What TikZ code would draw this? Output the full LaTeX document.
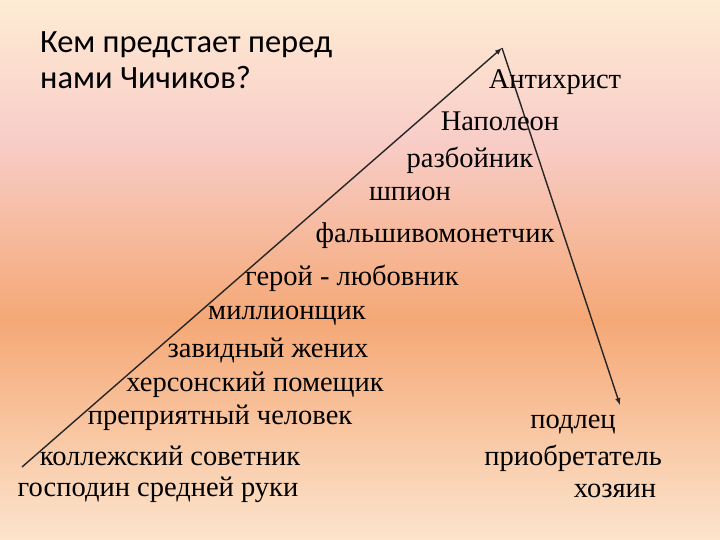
\documentclass[tikz,border=0pt]{standalone}
\usepackage{fontspec}
\setmainfont{Liberation Serif}
\newfontfamily\titlefont{Carlito}
\begin{document}
\begin{tikzpicture}[x=1pt,y=-1pt,
  lbl/.style={font=\fontsize{28.5}{30}\selectfont, inner sep=0pt},
  ttl/.style={font=\titlefont\fontsize{32.5}{34}\selectfont, inner sep=0pt, anchor=west},
  arr/.style={-latex, line width=1.4pt, black!85}]
\useasboundingbox (0,0) rectangle (720,540);
\shade[top color={rgb,255:red,255;green,236;blue,212}, bottom color={rgb,255:red,248;green,205;blue,200}] (0,0) rectangle (720,140);
\shade[top color={rgb,255:red,248;green,205;blue,200}, bottom color={rgb,255:red,245;green,168;blue,118}] (0,140) rectangle (720,320);
\shade[top color={rgb,255:red,245;green,168;blue,118}, bottom color={rgb,255:red,252;green,228;blue,205}] (0,320) rectangle (720,540);
\node[ttl] (t1) at (40,45) {Кем предстает перед};
\node[ttl] (t2) at (40,78) {нами Чичиков?};
\coordinate (a) at (22,467);
\coordinate (apex) at (502,48);
\coordinate (b) at (620,405);
\draw[arr] (a) -- (apex);
\draw[arr] (apex) -- (b);
\node[lbl] (n1) at (555,82) {Антихрист};
\node[lbl] (n2) at (500,121) {Наполеон};
\node[lbl] (n3) at (470,160) {разбойник};
\node[lbl] (n4) at (410,194) {шпион};
\node[lbl] (n5) at (435,236) {фальшивомонетчик};
\node[lbl] (n6) at (352,278) {герой - любовник};
\node[lbl] (n7) at (287,316) {миллионщик};
\node[lbl] (n8) at (268,350) {завидный жених};
\node[lbl] (n9) at (255,385) {херсонский помещик};
\node[lbl] (n10) at (220,418) {преприятный человек};
\node[lbl] (n11) at (170,456) {коллежский советник};
\node[lbl] (n12) at (158,490) {господин средней руки};
\node[lbl] (m1) at (573,425) {подлец};
\node[lbl] (m2) at (573,458) {приобретатель};
\node[lbl] (m3) at (615,491) {хозяин};
\end{tikzpicture}
\end{document}
